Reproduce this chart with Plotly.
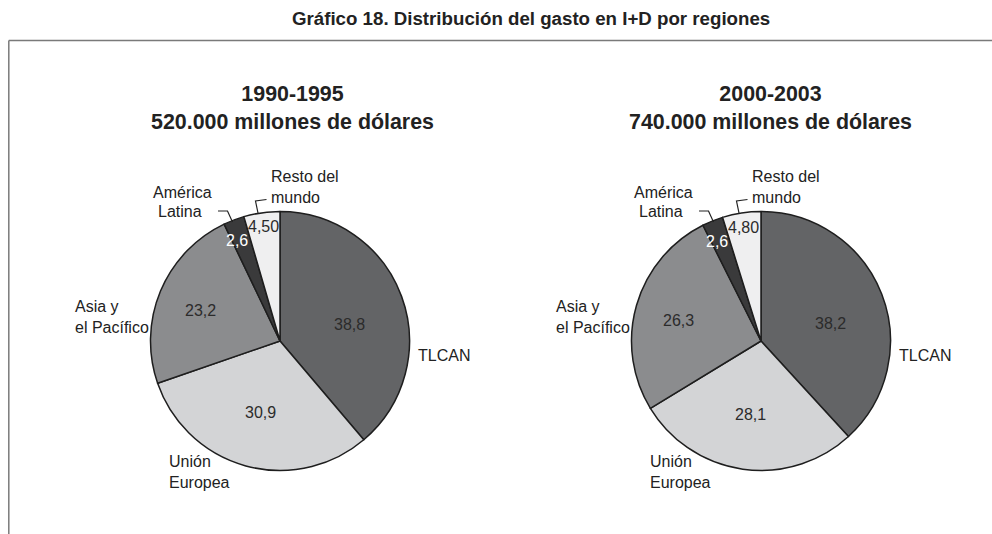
import math
import plotly.graph_objects as go

# ---- data ----
regions = ["TLCAN", "Unión Europea", "Asia y el Pacífico", "América Latina", "Resto del mundo"]
values_1990 = [38.8, 30.9, 23.2, 2.6, 4.5]
labels_1990 = ["38,8", "30,9", "23,2", "2,6", "4,50"]
values_2000 = [38.2, 28.1, 26.3, 2.6, 4.8]
labels_2000 = ["38,2", "28,1", "26,3", "2,6", "4,80"]
period_titles = ["1990-1995<br>520.000 millones de dólares", "2000-2003<br>740.000 millones de dólares"]
main_title = "Gráfico 18. Distribución del gasto en I+D por regiones"

# ---- style ----
PW, PH = 992, 534
W, H = PW, PH
colors = ["#636466", "#d3d4d6", "#8b8c8e", "#3a3a3b", "#efeff0"]
text_colors = ["#2b2b2b", "#2b2b2b", "#2b2b2b", "#ffffff", "#2b2b2b"]
label_frac = [0.55, 0.575, 0.66, 0.845, 0.89]
label_nudge = [7, 0, -2, -2, 0]
FONT = "Liberation Sans, Arial, sans-serif"
LBL = 16
centers = [(280, 341), (761, 341)]
title_dx = [12, 9]
R = 129.5

fig = go.Figure()

# invisible axes in pixel units
fig.update_layout(
    width=W, height=H, margin=dict(l=0, r=0, t=0, b=0),
    paper_bgcolor="white", plot_bgcolor="white", showlegend=False,
    xaxis=dict(range=[0, PW], visible=False, fixedrange=True),
    yaxis=dict(range=[PH, 0], visible=False, fixedrange=True),
    font=dict(family=FONT, color="#222"),
)
fig.add_trace(go.Scatter(x=[0, PW], y=[0, PH], mode="markers", marker=dict(opacity=0), hoverinfo="skip"))

annotations = []
shapes = []

# frame
shapes.append(dict(type="line", xref="x", yref="y", x0=8.8, y0=40.5, x1=PW, y1=40.5,
                   line=dict(color="#7a7a7a", width=1.5)))
shapes.append(dict(type="line", xref="x", yref="y", x0=8.8, y0=40.5, x1=8.8, y1=PH,
                   line=dict(color="#7a7a7a", width=1.5)))

annotations.append(dict(x=531, y=18, xref="x", yref="y", text="<b>" + main_title + "</b>",
                        showarrow=False, font=dict(size=18.7, color="#222"), xanchor="center", yanchor="middle"))

for (cx, cy), tdx, vals, labs, ttl in zip(centers, title_dx, [values_1990, values_2000],
                                          [labels_1990, labels_2000], period_titles):
    fig.add_trace(go.Pie(
        values=vals, labels=regions, sort=False, direction="clockwise", rotation=0,
        marker=dict(colors=colors, line=dict(color="#1e1e1e", width=1.5)),
        textinfo="none", hoverinfo="label+value",
        domain=dict(x=[(cx - R) / W, (cx + R) / W], y=[(PH - cy - R) / H, (PH - cy + R) / H]),
    ))
    # inside value labels computed from data
    total = sum(vals)
    cum = 0.0
    for v, lab, frac, nd, tc in zip(vals, labs, label_frac, label_nudge, text_colors):
        mid = (cum + v / 2) / total * 360 + nd
        cum += v
        a = math.radians(mid)
        annotations.append(dict(x=cx + R * frac * math.sin(a), y=cy - R * frac * math.cos(a),
                                xref="x", yref="y", text=lab, showarrow=False,
                                font=dict(size=LBL, color=tc), xanchor="center", yanchor="middle"))
    # period title
    annotations.append(dict(x=cx + tdx, y=108, xref="x", yref="y",
                            text="<b>" + ttl.replace("<br>", "</b><br><b>") + "</b>",
                            showarrow=False, font=dict(size=21.4, color="#222"), xanchor="center", yanchor="middle"))
    # outside region labels
    ext = [
        ("TLCAN", cx + 136, cy + 14, "left"),
        ("Unión<br>Europea", cx - 113, cy + 131, "left"),
        ("Asia y<br>el Pacífico", cx - 207, cy - 24, "left"),
        ("América", cx - 66, cy - 149, "right"),
        ("Latina", cx - 76, cy - 130, "right"),
        ("Resto del<br>mundo", cx - 11, cy - 154, "left"),
    ]
    for t, x, y, anc in ext:
        annotations.append(dict(x=x, y=y, xref="x", yref="y", text=t, showarrow=False, align=anc,
                                font=dict(size=LBL, color="#222"), xanchor=anc, yanchor="middle"))
    # leader lines
    shapes.append(dict(type="path", xref="x", yref="y",
                       path=f"M {cx-62} {cy-130} L {cx-52.5} {cy-130} L {cx-47.5} {cy-119}",
                       line=dict(color="#222", width=1.2)))
    shapes.append(dict(type="path", xref="x", yref="y",
                       path=f"M {cx-13.5} {cy-141.5} L {cx-24.5} {cy-140} L {cx-22} {cy-128}",
                       line=dict(color="#222", width=1.2)))

fig.update_layout(annotations=annotations, shapes=shapes)
fig.write_html("out.html", config={"displayModeBar": False},
               post_script="document.body.style.margin='0';document.body.style.overflow='hidden';")
